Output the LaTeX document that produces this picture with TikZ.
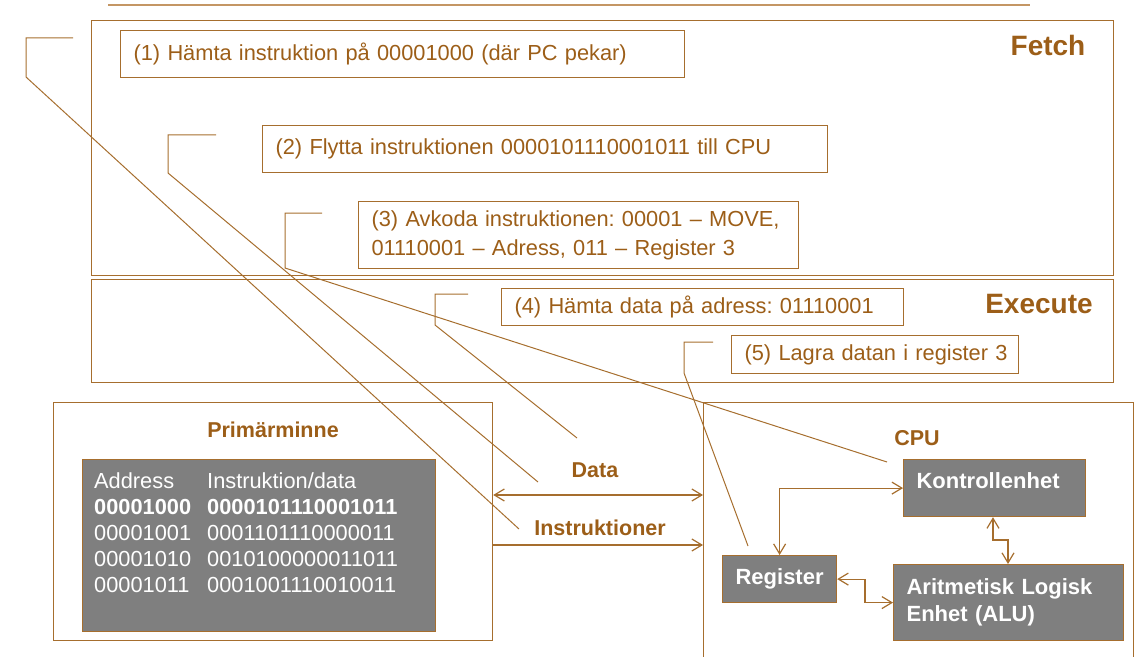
\documentclass[tikz,border=0pt]{standalone}
\usepackage{fontspec}
\setmainfont{Liberation Sans}
\usetikzlibrary{arrows.meta}
\frenchspacing
\definecolor{tbrown}{RGB}{156,94,24}
\definecolor{lbrown}{RGB}{166,110,46}
\definecolor{pale}{RGB}{196,150,100}
\definecolor{cellgray}{RGB}{127,127,127}
\tikzset{
  frame/.style={draw=lbrown, line width=1.2bp, inner sep=0pt, anchor=north west},
  stepbox/.style={draw=lbrown, line width=1.2bp, anchor=north west, inner xsep=13bp, inner ysep=0pt,
    align=left, text=tbrown, font=\fontsize{21.8bp}{29bp}\selectfont},
  phase/.style={text=tbrown, inner sep=0pt, font=\bfseries\fontsize{28bp}{32bp}\selectfont},
  blabel/.style={text=tbrown, inner sep=0pt, font=\bfseries\fontsize{21.5bp}{26bp}\selectfont},
  unit/.style={draw=lbrown, fill=cellgray, line width=1.2bp, anchor=north west, text=white,
    font=\bfseries\fontsize{22bp}{27bp}\selectfont, align=left, inner xsep=13bp, inner ysep=0pt},
  callout/.style={draw=lbrown, line width=1bp},
  tip/.tip={Straight Barb[length=10bp,width=12bp]},
  both/.style={draw=lbrown, line width=1.2bp, tip-tip},
  fwd/.style={draw=lbrown, line width=1.2bp, -tip},
}
\begin{document}
\begin{tikzpicture}[x=1bp,y=-1bp]
\useasboundingbox (0,0) rectangle (1146,657);

% top rule
\draw[pale, line width=1.2bp] (108,5) -- (1030,5);

% phase frames
\node[frame, minimum width=1022bp, minimum height=255bp] (fetch) at (91,20) {};
\node[frame, minimum width=1022bp, minimum height=103bp] (exec) at (91,279) {};
\node[phase] (fetchlbl) at (1048,45) {Fetch};
\node[phase] (execlbl) at (1039,304) {Execute};

% step boxes
\node[stepbox, text width=538bp, minimum height=47bp] (s1) at (120,30)
  {\mbox{(1) Hämta instruktion på 00001000 (där PC pekar)}};
\node[stepbox, text width=539bp, minimum height=47bp] (s2) at (262,125)
  {\mbox{(2) Flytta instruktionen 0000101110001011 till CPU}};
\node[stepbox, text width=414bp, minimum height=67bp] (s3) at (358,201)
  {\mbox{(3) Avkoda instruktionen: 00001 -- MOVE,}\\\mbox{01110001 -- Adress, 011 -- Register 3}};
\node[stepbox, text width=376bp, minimum height=37bp] (s4) at (501,288)
  {\mbox{(4) Hämta data på adress: 01110001}};
\node[stepbox, text width=261bp, minimum height=38bp] (s5) at (731,335)
  {\mbox{(5) Lagra datan i register 3}};

% memory
\node[frame, minimum width=439bp, minimum height=238bp] (mem) at (53,402) {};
\node[blabel] (memlbl) at (273,430) {Primärminne};
\node[frame, fill=cellgray, minimum width=353bp, minimum height=172bp] (memtab) at (82,459) {};
\node[anchor=north west, inner sep=0pt, text=white, font=\fontsize{21.8bp}{26.2bp}\selectfont] (memtxt) at (94,469.5)
  {\begin{tabular}{@{}p{113bp}@{}l@{}}
   Address & Instruktion/data\\
   \textbf{00001000} & \textbf{0000101110001011}\\
   00001001 & 0001101110000011\\
   00001010 & 0010100000011011\\
   00001011 & 0001001110010011
  \end{tabular}};

% CPU
\node[frame, minimum width=430bp, minimum height=300bp] (cpu) at (703,402) {};
\node[blabel] (cpulbl) at (917,438) {CPU};
\node[unit, text width=156bp, text height=29bp, text depth=28bp] (ctrl) at (903,459) {Kontrollenhet};
\node[unit, align=center, minimum width=114bp, minimum height=47bp, inner xsep=0pt] (reg) at (722,555) {Register};
\node[unit, text width=204bp, minimum height=76bp] (alu) at (893,564) {Aritmetisk Logisk\\Enhet (ALU)};

% buses
\coordinate (dY) at (0,495);
\coordinate (iY) at (0,545);
\draw[both] (mem.east |- dY) -- (cpu.west |- dY);
\draw[fwd] (mem.east |- iY) -- (cpu.west |- iY);
\node[blabel] (datalbl) at (595,470) {Data};
\node[blabel] (instrlbl) at (600,528) {Instruktioner};

% internal CPU links
\draw[both] (reg.north) |- (ctrl.west);
\coordinate (k1) at (993,540);
\coordinate (k2) at (1008,540);
\draw[both] (ctrl.south -| k1) -- (k1) -- (k2) -- (alu.north -| k2);
\coordinate (ra) at (865,0);
\draw[both] (reg.east) -- (reg.east -| ra) |- (alu.west);

% callouts
\coordinate (c1a) at (73,38);  \coordinate (c1b) at (26,38);  \coordinate (c1c) at (26,77);  \coordinate (c1t) at (519,529);
\coordinate (c2a) at (216,135); \coordinate (c2b) at (168,135); \coordinate (c2c) at (168,173); \coordinate (c2t) at (538,482);
\coordinate (c3a) at (322,213); \coordinate (c3b) at (285,213); \coordinate (c3c) at (285,268); \coordinate (c3t) at (887,462);
\coordinate (c4a) at (468,294); \coordinate (c4b) at (435,294); \coordinate (c4c) at (435,325); \coordinate (c4t) at (577,438);
\coordinate (c5a) at (713,342); \coordinate (c5b) at (684,342); \coordinate (c5c) at (684,373); \coordinate (c5t) at (748,546);
\draw[callout] (c1a) -- (c1b) -- (c1c) -- (c1t);
\draw[callout] (c2a) -- (c2b) -- (c2c) -- (c2t);
\draw[callout] (c3a) -- (c3b) -- (c3c) -- (c3t);
\draw[callout] (c4a) -- (c4b) -- (c4c) -- (c4t);
\draw[callout] (c5a) -- (c5b) -- (c5c) -- (c5t);
\end{tikzpicture}
\end{document}
